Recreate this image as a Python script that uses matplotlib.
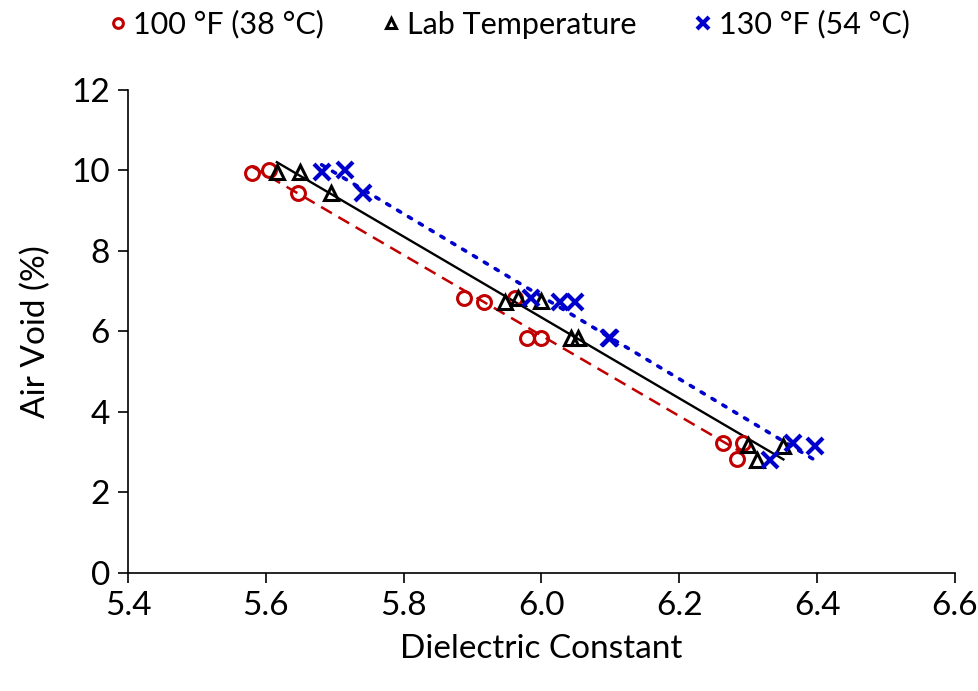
import numpy as np
import matplotlib
matplotlib.use("Agg")
import matplotlib.pyplot as plt

plt.rcParams['font.family'] = ['Lato', 'DejaVu Sans']

# Data
dc_100F = [5.580, 5.605, 5.647, 5.887, 5.916, 5.962, 5.979, 6.000, 6.264, 6.292, 6.284]
av_100F = [9.94, 10.00, 9.44, 6.83, 6.73, 6.83, 5.84, 5.84, 3.22, 3.22, 2.82]

dc_lab = [5.616, 5.650, 5.695, 5.947, 5.966, 5.999, 6.043, 6.053, 6.300, 6.313, 6.351]
av_lab = [9.96, 9.96, 9.44, 6.73, 6.83, 6.76, 5.84, 5.84, 3.18, 2.80, 3.16]

dc_130F = [5.681, 5.715, 5.741, 5.985, 6.027, 6.049, 6.098, 6.100, 6.332, 6.365, 6.397]
av_130F = [9.96, 10.00, 9.44, 6.83, 6.73, 6.73, 5.84, 5.84, 2.80, 3.23, 3.16]

labels = ['100 °F (38 °C)', 'Lab Temperature', '130 °F (54 °C)']
xticks = [5.4, 5.6, 5.8, 6.0, 6.2, 6.4, 6.6]
yticks = [0, 2, 4, 6, 8, 10, 12]

fig = plt.figure(figsize=(9.79, 6.91), dpi=100)
ax = fig.add_axes([0.1307, 0.1708, 0.8448, 0.699])

series = [
    (dc_100F, av_100F, dict(marker='o', color='#C00000', ms=10, mew=2.2, mfc='none'), dict(color='#C00000', ls=(0, (5, 3)), lw=1.8)),
    (dc_lab, av_lab, dict(marker='^', color='black', ms=10.5, mew=2.2, mfc='none'), dict(color='black', ls='-', lw=1.7)),
    (dc_130F, av_130F, dict(marker='x', color='#0000CC', ms=11.5, mew=3.0), dict(color='#0000CC', ls=(0, (1, 2.5)), lw=2.6, dash_capstyle='round')),
]

handles = []
for (xs, ys, mk, ln), lab in zip(series, labels):
    xs = np.array(xs); ys = np.array(ys)
    h, = ax.plot(xs, ys, ls='none', label=lab, zorder=3, **mk)
    handles.append(h)
    m, b = np.polyfit(xs, ys, 1)
    xx = np.array([xs.min(), xs.max()])
    ax.plot(xx, m * xx + b, zorder=2, **ln)

ax.set_xlim(5.4, 6.6)
ax.set_ylim(0, 12)
ax.set_xticks(xticks)
ax.set_xticklabels([f'{v:.1f}' for v in xticks])
ax.set_yticks(yticks)
ax.spines['top'].set_visible(False)
ax.spines['right'].set_visible(False)
for s in ['left', 'bottom']:
    ax.spines[s].set_linewidth(1.2)
ax.tick_params(axis='both', direction='out', length=7, width=1.2, labelsize=24, pad=6)
ax.set_xlabel('Dielectric Constant', fontsize=24, labelpad=9)
ax.set_ylabel('Air Void (%)', fontsize=24, labelpad=14)

leg = fig.legend(handles=handles, labels=labels, loc='upper center', bbox_to_anchor=(0.52, 1.025),
                 ncol=3, frameon=False, fontsize=22, handlelength=0.6, handletextpad=0.2,
                 columnspacing=1.9, markerscale=0.7)

fig.savefig('out.png', dpi=100)
